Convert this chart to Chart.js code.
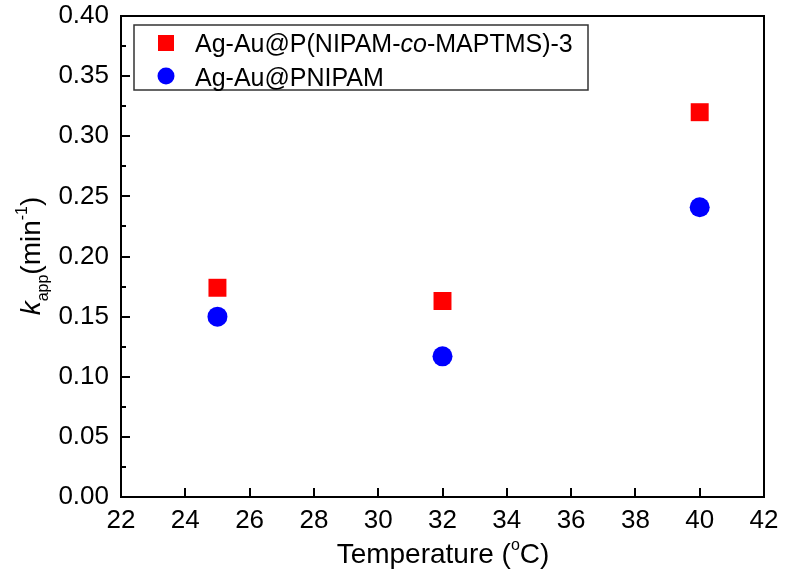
<!DOCTYPE html>
<html>
<head>
<meta charset="utf-8">
<script src="https://cdn.jsdelivr.net/npm/chart.js@4"></script>
<style>
  body { margin: 0; background: #fff; }
  #wrap { width: 787px; height: 580px; }
</style>
</head>
<body>
<div id="wrap"><canvas id="kapp_plot"></canvas></div>
<script>
'use strict';

// data
const temperatures = [25, 32, 40];
const kappCopolymer = [0.174, 0.163, 0.320];
const kappPnipam = [0.150, 0.117, 0.241];

const xMin = 22, xMax = 42, xStep = 2;
const yMin = 0, yMax = 0.40, yStep = 0.05;

const FONT = '"Liberation Sans", Arial, sans-serif';

function toPoints(xs, ys) {
    return xs.map((x, i) => ({x: x, y: ys[i]}));
}

/**
 * Draw a row of text pieces with their own font and baseline shift.
 */
function drawRuns(ctx, runs, x, y, align) {
    let total = 0;
    runs.forEach(r => {
        ctx.font = r.font;
        r.w = ctx.measureText(r.text).width;
        total += r.w;
    });
    let cx = align === 'center' ? x - total / 2 : x;
    ctx.textBaseline = 'alphabetic';
    ctx.textAlign = 'left';
    runs.forEach(r => {
        ctx.font = r.font;
        ctx.fillText(r.text, cx, y + (r.dy || 0));
        cx += r.w;
    });
}

const decorations = {
    id: 'decorations',
    afterDraw(chart) {
        const ctx = chart.ctx;
        const a = chart.chartArea;
        const xs = chart.scales.x, ys = chart.scales.y;
        ctx.save();
        ctx.strokeStyle = '#000';
        ctx.fillStyle = '#000';

        // top and right frame
        ctx.lineWidth = 2;
        ctx.beginPath();
        ctx.moveTo(a.left, a.top);
        ctx.lineTo(a.right, a.top);
        ctx.lineTo(a.right, a.bottom);
        ctx.stroke();

        // inward ticks
        ctx.lineWidth = 2;
        ctx.beginPath();
        for (let v = xMin + xStep; v < xMax; v += xStep) {
            const px = Math.round(xs.getPixelForValue(v));
            ctx.moveTo(px, a.bottom);
            ctx.lineTo(px, a.bottom - 9);
        }
        for (let i = 1; i < 16; i++) {
            const v = i * yStep / 2;
            const py = Math.round(ys.getPixelForValue(v));
            ctx.moveTo(a.left, py);
            ctx.lineTo(a.left + (i % 2 === 0 ? 9 : 5), py);
        }
        ctx.stroke();

        // legend box
        const lx = 134, ly = 25, lw = 454, lh = 65;
        ctx.lineWidth = 1.5;
        ctx.strokeStyle = '#333';
        ctx.fillStyle = '#fff';
        ctx.fillRect(lx, ly, lw, lh);
        ctx.strokeRect(lx, ly, lw, lh);

        const ds = chart.data.datasets;
        ctx.fillStyle = ds[0].backgroundColor;
        ctx.fillRect(158, 35, 16, 16);
        ctx.fillStyle = ds[1].backgroundColor;
        ctx.beginPath();
        ctx.arc(166, 76, 8.5, 0, Math.PI * 2);
        ctx.fill();

        ctx.fillStyle = '#000';
        const f = '25px ' + FONT;
        drawRuns(ctx, [
            {text: 'Ag-Au@P(NIPAM-', font: f},
            {text: 'co', font: 'italic ' + f},
            {text: '-MAPTMS)-3', font: f}
        ], 195, 52);
        drawRuns(ctx, [{text: 'Ag-Au@PNIPAM', font: f}], 195, 86);

        // x axis title
        const t = '28px ' + FONT, s = '16px ' + FONT;
        drawRuns(ctx, [
            {text: 'Temperature (', font: t},
            {text: 'o', font: s, dy: -13},
            {text: 'C)', font: t}
        ], 443, 563, 'center');

        // y axis title
        ctx.translate(40, 256);
        ctx.rotate(-Math.PI / 2);
        drawRuns(ctx, [
            {text: 'k', font: 'italic ' + t},
            {text: 'app', font: s, dy: 8},
            {text: '(min', font: t},
            {text: '-1', font: s, dy: -13},
            {text: ')', font: t}
        ], 0, 0, 'center');
        ctx.restore();
    }
};

const kapp_plot = new Chart('kapp_plot', {
    type: 'scatter',
    data: {
        datasets: [{
            label: 'Ag-Au@P(NIPAM-co-MAPTMS)-3',
            data: toPoints(temperatures, kappCopolymer),
            pointStyle: 'rect',
            pointRadius: 12.7,
            pointHoverRadius: 12.7,
            backgroundColor: '#ff0000',
            borderWidth: 0
        }, {
            label: 'Ag-Au@PNIPAM',
            data: toPoints(temperatures, kappPnipam),
            pointStyle: 'circle',
            pointRadius: 10,
            pointHoverRadius: 10,
            backgroundColor: '#0000ff',
            borderWidth: 0
        }]
    },
    options: {
        responsive: true,
        maintainAspectRatio: false,
        animation: false,
        layout: {padding: {top: 16, right: 23, left: 0, bottom: 0}},
        plugins: {
            legend: {display: false},
            tooltip: {enabled: false}
        },
        scales: {
            x: {
                type: 'linear',
                min: xMin,
                max: xMax,
                afterFit: s => {
                    s.height = 83;
                    s.paddingLeft = 0;
                    s.paddingRight = 0;
                },
                grid: {display: false, drawTicks: false},
                border: {display: true, color: '#000', width: 2},
                ticks: {
                    stepSize: xStep,
                    padding: 8,
                    color: '#000',
                    font: {family: FONT, size: 26}
                }
            },
            y: {
                min: yMin,
                max: yMax,
                afterFit: s => {
                    s.width = 121;
                    s.paddingTop = 0;
                    s.paddingBottom = 0;
                },
                grid: {display: false, drawTicks: false},
                border: {display: true, color: '#000', width: 2},
                ticks: {
                    stepSize: yStep,
                    padding: 12,
                    color: '#000',
                    font: {family: FONT, size: 26},
                    callback: v => v.toFixed(2)
                }
            }
        }
    },
    plugins: [decorations]
});
</script>
</body>
</html>
